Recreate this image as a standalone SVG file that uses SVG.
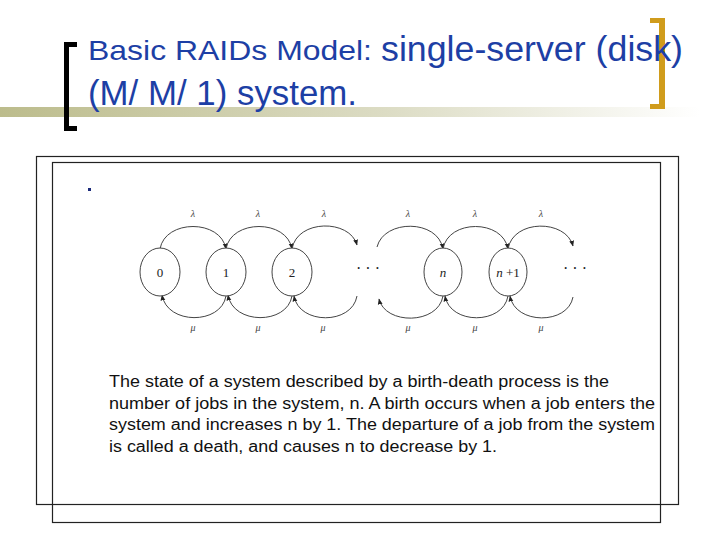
<svg xmlns="http://www.w3.org/2000/svg" width="720" height="540" viewBox="0 0 720 540">
<defs>
<linearGradient id="olive" x1="0" y1="0" x2="1" y2="0">
<stop offset="0" stop-color="#bcbc8c"/>
<stop offset="0.55" stop-color="#dcdcc4"/>
<stop offset="1" stop-color="#ffffff"/>
</linearGradient>
<marker id="ah" viewBox="0 0 10 10" refX="9" refY="5" markerWidth="6" markerHeight="6" orient="auto" markerUnits="userSpaceOnUse">
<path d="M0,1 L10,5 L0,9 z" fill="#222"/>
</marker>
<style>
.title{font-family:"Liberation Sans",Arial,sans-serif;fill:#1d3fa5}
.body{font-family:"Liberation Sans",Arial,sans-serif;font-size:16px;fill:#111}
.node ellipse{fill:#fff;stroke:#444;stroke-width:1}
.node text{font-family:"Liberation Serif","Times New Roman",serif;font-size:13px;fill:#222;text-anchor:middle}
.lbl{font-family:"Liberation Serif","Times New Roman",serif;font-size:10px;fill:#444;text-anchor:middle;font-style:italic}
.dots{font-family:"Liberation Serif",serif;font-size:16px;fill:#222}
#connectors path{fill:none;stroke:#444;stroke-width:1;marker-end:url(#ah)}
</style>
</defs>
<rect width="720" height="540" fill="#fff"/>
<!-- title decoration -->
<rect x="0" y="107" width="700" height="10" fill="url(#olive)"/>
<path d="M77,42 H64 V131 H77 V126 H69 V47 H77 Z" fill="#000"/>
<path d="M650,18 H665 V109 H650 V104 H659 V23 H650 Z" fill="#d09c1c"/>
<text class="title" x="88" y="60" font-size="28" textLength="284" lengthAdjust="spacingAndGlyphs">Basic RAIDs Model:</text>
<text class="title" x="381" y="61" font-size="35" textLength="302" lengthAdjust="spacingAndGlyphs">single-server (disk)</text>
<text class="title" x="88" y="105" font-size="35" textLength="269" lengthAdjust="spacingAndGlyphs">(M/ M/ 1) system.</text>
<!-- frames -->
<rect x="36.5" y="156.5" width="642" height="348" fill="none" stroke="#222" stroke-width="1.2"/>
<rect x="52.5" y="162.5" width="608" height="360" fill="none" stroke="#222" stroke-width="1.2"/>
<rect x="88" y="188" width="3" height="3" fill="#1a2a7a"/>
<!-- diagram -->
<g id="connectors">
<path d="M160,249 C165,219 221,219 226,249"/>
<path d="M226,249 C231,219 287,219 292,249"/>
<path d="M292,249 C297,219 350,219 357,245"/>
<path d="M377,247 C384,219 438,219 443,249"/>
<path d="M443,249 C448,219 503,219 508,249"/>
<path d="M508,249 C513,219 566,219 573,246"/>
<path d="M226,296 C221,325 167,325 162,295"/>
<path d="M292,296 C287,325 233,325 228,295"/>
<path d="M357,296 C352,325 299,325 294,296"/>
<path d="M443,296 C438,325 385,325 379,299"/>
<path d="M508,296 C503,325 450,325 445,296"/>
<path d="M573,297 C568,325 515,325 510,296"/>
</g>
<g id="n0" class="node"><ellipse cx="160" cy="272" rx="20" ry="24"/><text x="160" y="277">0</text></g>
<g id="n1" class="node"><ellipse cx="226" cy="272" rx="20" ry="24"/><text x="226" y="277">1</text></g>
<g id="n2" class="node"><ellipse cx="292" cy="272" rx="20" ry="24"/><text x="292" y="277">2</text></g>
<g id="nn" class="node"><ellipse cx="443" cy="272" rx="19" ry="24"/><text x="443" y="277" font-style="italic">n</text></g>
<g id="nn1" class="node"><ellipse cx="508" cy="272" rx="19" ry="24"/><text x="508" y="277"><tspan font-style="italic">n</tspan> +1</text></g>
<text class="dots" x="356" y="274">· · ·</text>
<text class="dots" x="563" y="274">· · ·</text>
<g>
<text class="lbl" x="193" y="217">λ</text><text class="lbl" x="258" y="217">λ</text><text class="lbl" x="324" y="217">λ</text>
<text class="lbl" x="408" y="217">λ</text><text class="lbl" x="475" y="217">λ</text><text class="lbl" x="541" y="217">λ</text>
<text class="lbl" x="193" y="331">μ</text><text class="lbl" x="258" y="331">μ</text><text class="lbl" x="323" y="331">μ</text>
<text class="lbl" x="408" y="331">μ</text><text class="lbl" x="475" y="331">μ</text><text class="lbl" x="541" y="331">μ</text>
</g>
<text class="body" x="109" y="387" textLength="500" lengthAdjust="spacingAndGlyphs">The state of a system described by a birth-death process is the</text>
<text class="body" x="109" y="408.5" textLength="546" lengthAdjust="spacingAndGlyphs">number of jobs in the system, n. A birth occurs when a job enters the</text>
<text class="body" x="109" y="430" textLength="546" lengthAdjust="spacingAndGlyphs">system and increases n by 1. The departure of a job from the system</text>
<text class="body" x="109" y="451.5" textLength="388" lengthAdjust="spacingAndGlyphs">is called a death, and causes n to decrease by 1.</text>
</svg>
